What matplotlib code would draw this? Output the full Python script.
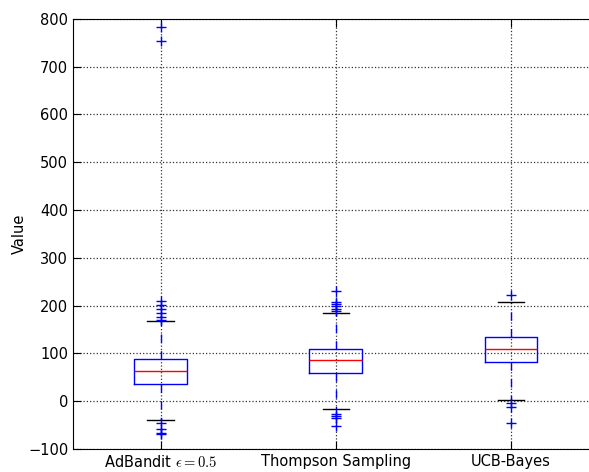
import matplotlib
matplotlib.use("Agg")
import matplotlib.pyplot as plt

plt.rcParams['mathtext.fontset'] = 'cm'
plt.rcParams['font.size'] = 10.5

labels = ['AdBandit $\\epsilon=0.5$', 'Thompson Sampling', 'UCB-Bayes']
q1 = [36, 58, 81]
medians = [63, 86, 109]
q3 = [89, 109, 135]
whisker_low = [-39, -16, 2]
whisker_high = [168, 185, 207]
fliers = [
    [209, 201, 192, 184, 175, 170, 754, 783, -45, -59, -66, -69],
    [231, 208, 203, 198, 193, 188, -26, -31, -36, -52],
    [222, -4, -12, -45],
]

stats = []
for i in range(len(labels)):
    stats.append({'label': labels[i], 'q1': q1[i], 'med': medians[i], 'q3': q3[i],
                  'whislo': whisker_low[i], 'whishi': whisker_high[i],
                  'fliers': fliers[i]})

fig = plt.figure(figsize=(5.89, 4.72), dpi=100)
ax = fig.add_axes([0.124, 0.049, 0.892, 0.911])

ax.bxp(stats, widths=0.3,
       boxprops=dict(color='b', linewidth=1),
       medianprops=dict(color='r', linewidth=1),
       whiskerprops=dict(color='b', linestyle=(0, (6, 6)), linewidth=1),
       capprops=dict(color='k', linewidth=1),
       flierprops=dict(marker='+', markeredgecolor='b', markersize=7, linestyle='none'))

ax.set_xlim(0.5, 3.5)
ax.set_ylim(-100, 800)
ax.set_yticks(range(-100, 801, 100))
ax.set_ylabel('Value', labelpad=1)
ax.grid(True, linestyle=':', color='0.2', linewidth=0.9)
ax.tick_params(direction='in', length=6, top=True, right=True)

fig.savefig('out.png', dpi=100)
